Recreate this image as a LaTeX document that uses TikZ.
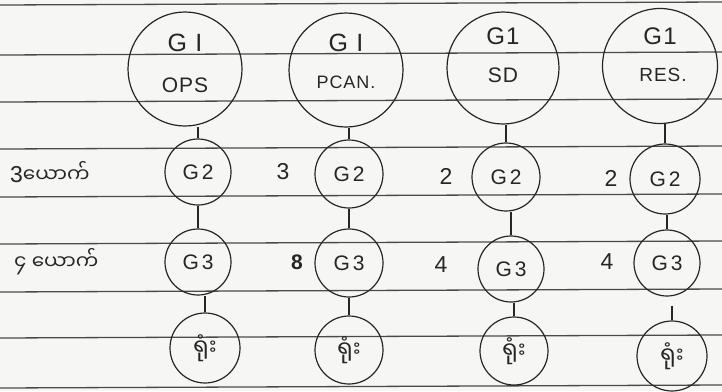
\documentclass[tikz,border=0pt]{standalone}
\usepackage{fontspec}
\setmainfont{Liberation Sans}
\newfontfamily\hand[LetterSpace=5]{Liberation Sans}
\newfontfamily\handw[LetterSpace=14]{Liberation Sans}
\newfontfamily\mya[Script=Myanmar]{Noto Sans Myanmar UI}
\definecolor{paper}{HTML}{F6F6F4}
\definecolor{rule}{HTML}{4A4A4A}
\definecolor{ink}{HTML}{262626}
\begin{document}
\begin{tikzpicture}[x=1pt,y=-1pt,
  ruled/.style={draw=rule,line width=1.3pt},
  gcirc/.style={circle,draw=ink,line width=1.2pt,inner sep=0pt,font=\handw\fontsize{21}{24}\selectfont,text=ink},
  rcirc/.style={gcirc,font=\mya\fontsize{23}{26}\selectfont},
  link/.style={draw=ink,line width=1.1pt},
  lab/.style={text=ink,font=\hand\fontsize{23}{26}\selectfont,inner sep=0pt},
  mlab/.style={text=ink,font=\mya\fontsize{20}{24}\selectfont,inner sep=0pt}]
\fill[paper] (0,0) rectangle (722,391);
\useasboundingbox (0,0) rectangle (722,391);
% ruled paper lines
\foreach \yy in {5,55,102,149,197,244,292,338,388}
  \draw[ruled] (0,\yy) -- (722,\yy-3);
% column 1
\node[gcirc,minimum size=114pt] (g1a) at (185,69) {};
\node[lab,font=\hand\fontsize{25}{28}\selectfont] (t1a) at (185,43) {G I};
\node[lab,font=\hand\fontsize{21}{24}\selectfont] (s1a) at (185,85) {OPS};
\node[gcirc,minimum size=66pt] (g2a) at (198,172) {G2};
\node[gcirc,minimum size=66pt] (g3a) at (198,262) {G3};
\node[rcirc,minimum size=70pt] (ra) at (205,348) {ရုံး};
% column 2
\node[gcirc,minimum size=114pt] (g1b) at (346,70) {};
\node[lab,font=\hand\fontsize{25}{28}\selectfont] (t1b) at (346,43) {G I};
\node[lab,font=\hand\fontsize{18}{20}\selectfont] (s1b) at (346,82) {PCAN.};
\node[gcirc,minimum size=68pt] (g2b) at (349,174) {G2};
\node[gcirc,minimum size=68pt] (g3b) at (349,263) {G3};
\node[rcirc,minimum size=68pt] (rb) at (349,350) {ရုံး};
% column 3
\node[gcirc,minimum size=112pt] (g1c) at (503,68) {};
\node[lab,font=\hand\fontsize{24}{26}\selectfont] (t1c) at (503,36) {G1};
\node[lab,font=\hand\fontsize{21}{24}\selectfont] (s1c) at (503,75) {SD};
\node[gcirc,minimum size=68pt] (g2c) at (506,177) {G2};
\node[gcirc,minimum size=66pt] (g3c) at (511,269) {G3};
\node[rcirc,minimum size=68pt] (rc) at (514,351) {ရုံး};
% column 4
\node[gcirc,minimum size=115pt] (g1d) at (660,66) {};
\node[lab,font=\hand\fontsize{24}{26}\selectfont] (t1d) at (660,36) {G1};
\node[lab,font=\hand\fontsize{19}{22}\selectfont] (s1d) at (663,75) {RES.};
\node[gcirc,minimum size=70pt] (g2d) at (665,179) {G2};
\node[gcirc,minimum size=66pt] (g3d) at (667,263) {G3};
\node[rcirc,minimum size=70pt] (rd) at (672,356) {ရုံး};
% connectors
\foreach \a/\b in {g1a/g2a,g2a/g3a,g3a/ra,g1b/g2b,g2b/g3b,g3b/rb,g1c/g2c,g2c/g3c,g3c/rc,g1d/g2d,g2d/g3d}
  \draw[link] (\b.north) -- (\b.north |- \a.south);
\draw[link,shorten <=9pt] (rd.north |- g3d.south) -- (rd.north);
% counts
\node[mlab,anchor=west] (c2a) at (10,172) {{\hand\fontsize{23}{26}\selectfont 3}ယောက်};
\node[mlab,anchor=west] (c3a) at (14,262) {၄ ယောက်};
\node[lab] (c2b) at (283,172) {3};
\node[lab,font=\hand\bfseries\fontsize{21}{24}\selectfont] (c3b) at (297,262) {8};
\node[lab] (c2c) at (446,176) {2};
\node[lab] (c3c) at (441,265) {4};
\node[lab] (c2d) at (611,178) {2};
\node[lab] (c3d) at (607,262) {4};
\end{tikzpicture}
\end{document}
